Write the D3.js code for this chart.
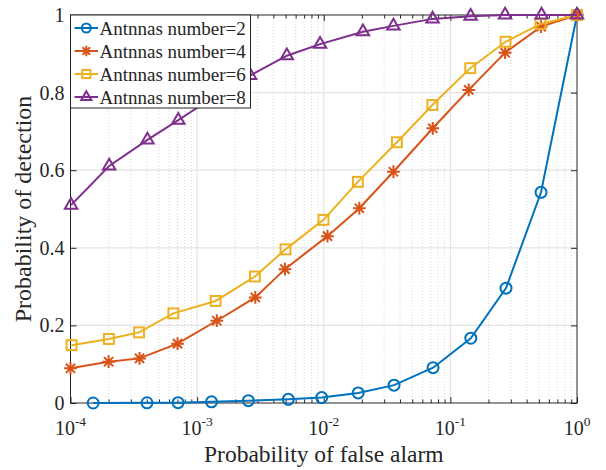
<!DOCTYPE html>
<html>
<head>
  <script src="https://d3js.org/d3.v7.min.js"></script>
  <style>
  html, body {
    margin: 0px;
    background: #fff;
  }
  svg text {
    font-family: "Liberation Serif", "Times New Roman", serif;
    fill: #262626;
  }
  </style>
</head>
<body>
  <svg id="chart" width="606" height="470"></svg>
  <script>

  // values
  var seriesNames = ["Antnnas number=2", "Antnnas number=4", "Antnnas number=6", "Antnnas number=8"];

  var pfa2 = [1.51e-4, 4.02e-4, 7.07e-4, 1.30e-3, 2.54e-3, 5.25e-3, 9.64e-3, 0.0187, 0.0359, 0.0730, 0.145, 0.275, 0.52, 1];
  var pd2  = [0.0, 0.0005, 0.0008, 0.003, 0.006, 0.0095, 0.014, 0.026, 0.046, 0.091, 0.167, 0.296, 0.543, 1.0];

  var pfa4 = [1e-4, 2.0e-4, 3.51e-4, 7.0e-4, 1.43e-3, 2.88e-3, 4.94e-3, 0.0107, 0.0191, 0.0355, 0.0726, 0.1396, 0.2704, 0.52, 1];
  var pd4  = [0.0895, 0.1065, 0.115, 0.153, 0.212, 0.272, 0.345, 0.43, 0.502, 0.596, 0.708, 0.807, 0.903, 0.970, 1.0];

  var pfa6 = [1.02e-4, 2.01e-4, 3.48e-4, 6.49e-4, 1.40e-3, 2.86e-3, 4.99e-3, 9.95e-3, 0.0186, 0.0378, 0.0721, 0.1435, 0.273, 0.515, 1];
  var pd6  = [0.149, 0.165, 0.182, 0.231, 0.263, 0.326, 0.396, 0.472, 0.570, 0.672, 0.768, 0.863, 0.931, 0.977, 1.0];

  var pfa8 = [1.01e-4, 2.02e-4, 4.05e-4, 7.10e-4, 1.34e-3, 2.62e-3, 5.11e-3, 9.35e-3, 0.0204, 0.0355, 0.0723, 0.1445, 0.2704, 0.525, 1];
  var pd8  = [0.510, 0.611, 0.678, 0.729, 0.788, 0.844, 0.895, 0.925, 0.957, 0.972, 0.990, 0.997, 1.0, 1.0, 1.0];

  var xTickExp = [-4, -3, -2, -1, 0];
  var yTicks = [0, 0.2, 0.4, 0.6, 0.8, 1];
  var yTickLabels = ["0", "0.2", "0.4", "0.6", "0.8", "1"];

  var colors = ["#0072BD", "#D95319", "#EDB120", "#7E2F8E"];
  var markers = ["circle", "star", "square", "triangle"];

  var series = [
    {x: pfa2, y: pd2},
    {x: pfa4, y: pd4},
    {x: pfa6, y: pd6},
    {x: pfa8, y: pd8}
  ];

  var pLeft = 70.5, pRight = 577, pTop = 15, pBottom = 403;
  var lw = 2;

  var svg = d3.select("#chart");

  var x = d3.scaleLog().domain([1e-4, 1]).range([pLeft, pRight]);
  var y = d3.scaleLinear().domain([0, 1]).range([pBottom, pTop]);

  // minor decade positions 2..9
  var minors = [];
  xTickExp.slice(0, -1).forEach(function(e) {
    for (var m = 2; m <= 9; m++) minors.push(m * Math.pow(10, e));
  });
  var majors = xTickExp.map(function(e) { return Math.pow(10, e); });

  var grid = svg.append("g");

  // minor grid (dotted)
  grid.selectAll(".minor").data(minors).enter().append("line")
    .attr("x1", function(d) { return x(d); }).attr("x2", function(d) { return x(d); })
    .attr("y1", pTop).attr("y2", pBottom)
    .attr("stroke", "#cfcfcf").attr("stroke-width", 0.8)
    .attr("stroke-dasharray", "1,2");

  // major grid
  grid.selectAll(".majx").data(majors.slice(1, -1)).enter().append("line")
    .attr("x1", function(d) { return x(d); }).attr("x2", function(d) { return x(d); })
    .attr("y1", pTop).attr("y2", pBottom)
    .attr("stroke", "#e3e3e3").attr("stroke-width", 1.2);

  grid.selectAll(".majy").data(yTicks.slice(1, -1)).enter().append("line")
    .attr("x1", pLeft).attr("x2", pRight)
    .attr("y1", function(d) { return y(d); }).attr("y2", function(d) { return y(d); })
    .attr("stroke", "#e3e3e3").attr("stroke-width", 1.2);

  // axes with inward ticks
  function styleAxis(g) {
    g.select(".domain").remove();
    g.selectAll(".tick line").attr("stroke", "#262626").attr("stroke-width", 1);
    g.selectAll(".tick text").remove();
  }

  svg.append("g").attr("transform", "translate(0," + pBottom + ")")
    .call(d3.axisBottom(x).tickValues(majors).tickSize(-6)).call(styleAxis);
  svg.append("g").attr("transform", "translate(0," + pBottom + ")")
    .call(d3.axisBottom(x).tickValues(minors).tickSize(-3.5)).call(styleAxis);
  svg.append("g").attr("transform", "translate(0," + pTop + ")")
    .call(d3.axisTop(x).tickValues(majors).tickSize(-6)).call(styleAxis);
  svg.append("g").attr("transform", "translate(0," + pTop + ")")
    .call(d3.axisTop(x).tickValues(minors).tickSize(-3.5)).call(styleAxis);
  svg.append("g").attr("transform", "translate(" + pLeft + ",0)")
    .call(d3.axisLeft(y).tickValues(yTicks).tickSize(-6)).call(styleAxis);
  svg.append("g").attr("transform", "translate(" + pRight + ",0)")
    .call(d3.axisRight(y).tickValues(yTicks).tickSize(-6)).call(styleAxis);

  svg.append("rect")
    .attr("x", pLeft).attr("y", pTop)
    .attr("width", pRight - pLeft).attr("height", pBottom - pTop)
    .attr("fill", "none").attr("stroke", "#262626").attr("stroke-width", 1);

  // tick labels
  svg.selectAll(".ylab").data(yTicks).enter().append("text")
    .attr("x", pLeft - 6)
    .attr("y", function(d) { return y(d) + 7; })
    .attr("text-anchor", "end")
    .attr("font-size", 20)
    .text(function(d, i) { return yTickLabels[i]; });

  var xl = svg.selectAll(".xlab").data(xTickExp).enter().append("text")
    .attr("x", function(d) { return x(Math.pow(10, d)); })
    .attr("y", 435)
    .attr("text-anchor", "middle")
    .attr("font-size", 20);
  xl.append("tspan").text("10");
  xl.append("tspan").attr("font-size", 13.5).attr("dy", -9).text(function(d) { return d; });

  // axis titles
  svg.append("text")
    .attr("x", (pLeft + pRight) / 2).attr("y", 462)
    .attr("text-anchor", "middle").attr("font-size", 23.5)
    .text("Probability of false alarm");

  svg.append("text")
    .attr("transform", "translate(31," + ((pTop + pBottom) / 2) + ") rotate(-90)")
    .attr("text-anchor", "middle").attr("font-size", 24)
    .text("Probability of detection");

  // marker drawing
  function drawMarker(g, type, color, s) {
    if (type === "circle") {
      g.append("circle").attr("r", s / 2)
        .attr("fill", "none").attr("stroke", color).attr("stroke-width", lw);
    } else if (type === "square") {
      g.append("rect").attr("x", -s * 0.45).attr("y", -s * 0.45)
        .attr("width", s * 0.9).attr("height", s * 0.9)
        .attr("fill", "none").attr("stroke", color).attr("stroke-width", lw);
    } else if (type === "triangle") {
      g.append("path")
        .attr("d", d3.symbol().type(d3.symbolTriangle).size(s * s * 0.55)())
        .attr("fill", "none").attr("stroke", color).attr("stroke-width", lw);
    } else if (type === "star") {
      var r = s * 0.58, q = r * 0.72;
      g.append("path")
        .attr("d", "M" + (-r) + ",0L" + r + ",0M0," + (-r) + "L0," + r +
          "M" + (-q) + "," + (-q) + "L" + q + "," + q + "M" + (-q) + "," + q + "L" + q + "," + (-q))
        .attr("fill", "none").attr("stroke", color).attr("stroke-width", lw);
    }
  }

  var line = d3.line()
    .x(function(d) { return x(d[0]); })
    .y(function(d) { return y(d[1]); });

  var plot = svg.append("g");

  series.forEach(function(s, i) {
    var pts = s.x.map(function(v, j) { return [v, s.y[j]]; });
    plot.append("path")
      .attr("d", line(pts))
      .attr("fill", "none")
      .attr("stroke", colors[i])
      .attr("stroke-width", lw);
    pts.forEach(function(p) {
      var g = plot.append("g").attr("transform", "translate(" + x(p[0]) + "," + y(p[1]) + ")");
      drawMarker(g, markers[i], colors[i], 11);
    });
  });

  // legend
  var legend = svg.append("g");
  legend.append("rect")
    .attr("x", 70.5).attr("y", 15)
    .attr("width", 180).attr("height", 93)
    .attr("fill", "#fff").attr("stroke", "#262626").attr("stroke-width", 1);

  seriesNames.forEach(function(name, i) {
    var ly = 28 + i * 23;
    legend.append("line")
      .attr("x1", 74.5).attr("x2", 98).attr("y1", ly).attr("y2", ly)
      .attr("stroke", colors[i]).attr("stroke-width", lw);
    var g = legend.append("g").attr("transform", "translate(86.3," + ly + ")");
    drawMarker(g, markers[i], colors[i], 9);
    legend.append("text")
      .attr("x", 99.5).attr("y", ly + 7)
      .attr("font-size", 19)
      .text(name);
  });

  </script>
</body>
</html>
